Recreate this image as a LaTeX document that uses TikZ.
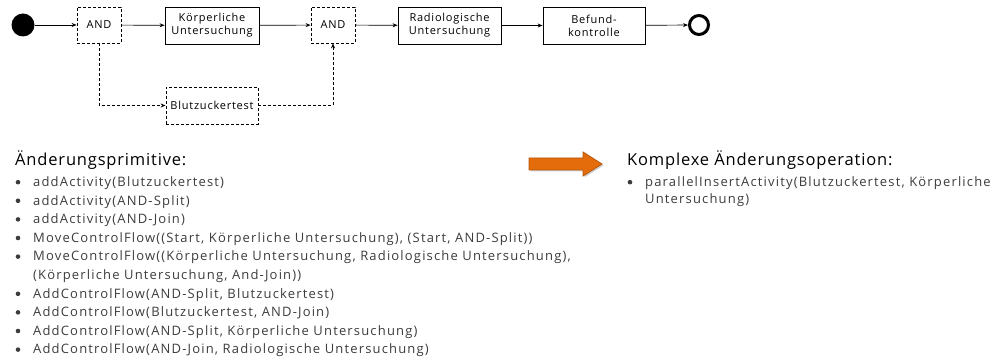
\documentclass[tikz,border=0pt]{standalone}
\usepackage{fontspec}
\setmainfont{Open Sans}
\newfontfamily\itemfont[LetterSpace=9]{Open Sans}
\newfontfamily\headfont[LetterSpace=5]{Open Sans}
\newfontfamily\boxfont[LetterSpace=7]{Open Sans}
\usetikzlibrary{arrows.meta}
\definecolor{itemgrey}{HTML}{3C3C3C}
\definecolor{arroworange}{HTML}{E46C0A}
\definecolor{arrowedge}{HTML}{B4560A}
\begin{document}
\begin{tikzpicture}[x=1pt,y=-1pt,
  task/.style={draw, line width=0.8pt, minimum width=94pt, minimum height=37pt,
    align=center, inner sep=1pt, font=\boxfont\fontsize{11}{13}\selectfont},
  gate/.style={draw, dash pattern=on 3pt off 2pt, line width=0.8pt,
    minimum width=44pt, minimum height=36pt, inner sep=1pt,
    font=\boxfont\fontsize{11}{13}\selectfont},
  flow/.style={-{Stealth[length=5pt,width=4pt]}, line width=0.7pt},
  optflow/.style={flow, dash pattern=on 3pt off 2pt},
  head/.style={anchor=base west, inner sep=0pt, font=\headfont\fontsize{16.5}{19}\selectfont},
  item/.style={anchor=base west, inner sep=0pt, text=itemgrey,
    font=\itemfont\fontsize{13}{15}\selectfont},
  dot/.style={fill=itemgrey},
]
\useasboundingbox (0,0) rectangle (1004,358);

% process model
\node[circle, fill, minimum size=23pt, inner sep=0pt] (start) at (23,25) {};
\node[gate] (split) at (99,25) {AND};
\node[task] (koerper) at (212,25.5) {Körperliche\\Untersuchung};
\node[gate] (join) at (333,25) {AND};
\node[task, minimum width=103pt] (radio) at (449.5,25.5) {Radiologische\\Untersuchung};
\node[task, minimum width=102pt] (befund) at (594,25.5) {Befund-\\kontrolle};
\node[circle, draw, line width=3pt, minimum size=19pt, inner sep=0pt] (end) at (699,25) {};
\node[gate, minimum width=92pt, minimum height=37pt] (blut) at (212,105.5) {Blutzuckertest};

\draw[flow] (start) -- (split);
\draw[flow] (split) -- (koerper);
\draw[flow] (koerper) -- (join);
\draw[flow] (join) -- (radio);
\draw[flow] (radio) -- (befund);
\draw[flow] (befund) -- (end);
\draw[optflow] (split.south) |- (blut.west);
\draw[optflow] (blut.east) -| (join.south);

% change primitives
\node[head] (h1) at (15,166) {Änderungsprimitive:};
\node[item] (i1) at (33,186.5) {addActivity(Blutzuckertest)};
\node[item] (i2) at (33,205.1) {addActivity(AND-Split)};
\node[item] (i3) at (33,223.7) {addActivity(AND-Join)};
\node[item] (i4) at (33,242.3) {MoveControlFlow((Start, Körperliche Untersuchung), (Start, AND-Split))};
\node[item] (i5) at (33,260.9) {MoveControlFlow((Körperliche Untersuchung, Radiologische Untersuchung),};
\node[item] (i5b) at (33,279.5) {(Körperliche Untersuchung, And-Join))};
\node[item] (i6) at (33,298.1) {AddControlFlow(AND-Split, Blutzuckertest)};
\node[item] (i7) at (33,316.7) {AddControlFlow(Blutzuckertest, AND-Join)};
\node[item] (i8) at (33,335.3) {AddControlFlow(AND-Split, Körperliche Untersuchung)};
\node[item] (i9) at (33,353.9) {AddControlFlow(AND-Join, Radiologische Untersuchung)};
\foreach \n in {i1,i2,i3,i4,i5,i6,i7,i8,i9}
  \fill[dot] ([xshift=-15pt,yshift=4.3pt]\n.base west) circle (2.3pt);

% block arrow
\fill[black, opacity=0.18] (530.5,159.5) -- (584.5,159.5) -- (584.5,153.5) -- (603.5,165.5)
  -- (584.5,177.5) -- (584.5,171.5) -- (530.5,171.5) -- cycle;
\draw[fill=arroworange, draw=arrowedge, line width=0.8pt] (529,158) -- (583,158) -- (583,152)
  -- (602,164) -- (583,176) -- (583,170) -- (529,170) -- cycle;

% complex change operation
\node[head] (h2) at (627,166) {Komplexe Änderungsoperation:};
\node[item] (r1) at (645,186.5) {parallelInsertActivity(Blutzuckertest, Körperliche};
\node[item] (r1b) at (645,204) {Untersuchung)};
\fill[dot] ([xshift=-15pt,yshift=4.3pt]r1.base west) circle (2.3pt);
\end{tikzpicture}
\end{document}
